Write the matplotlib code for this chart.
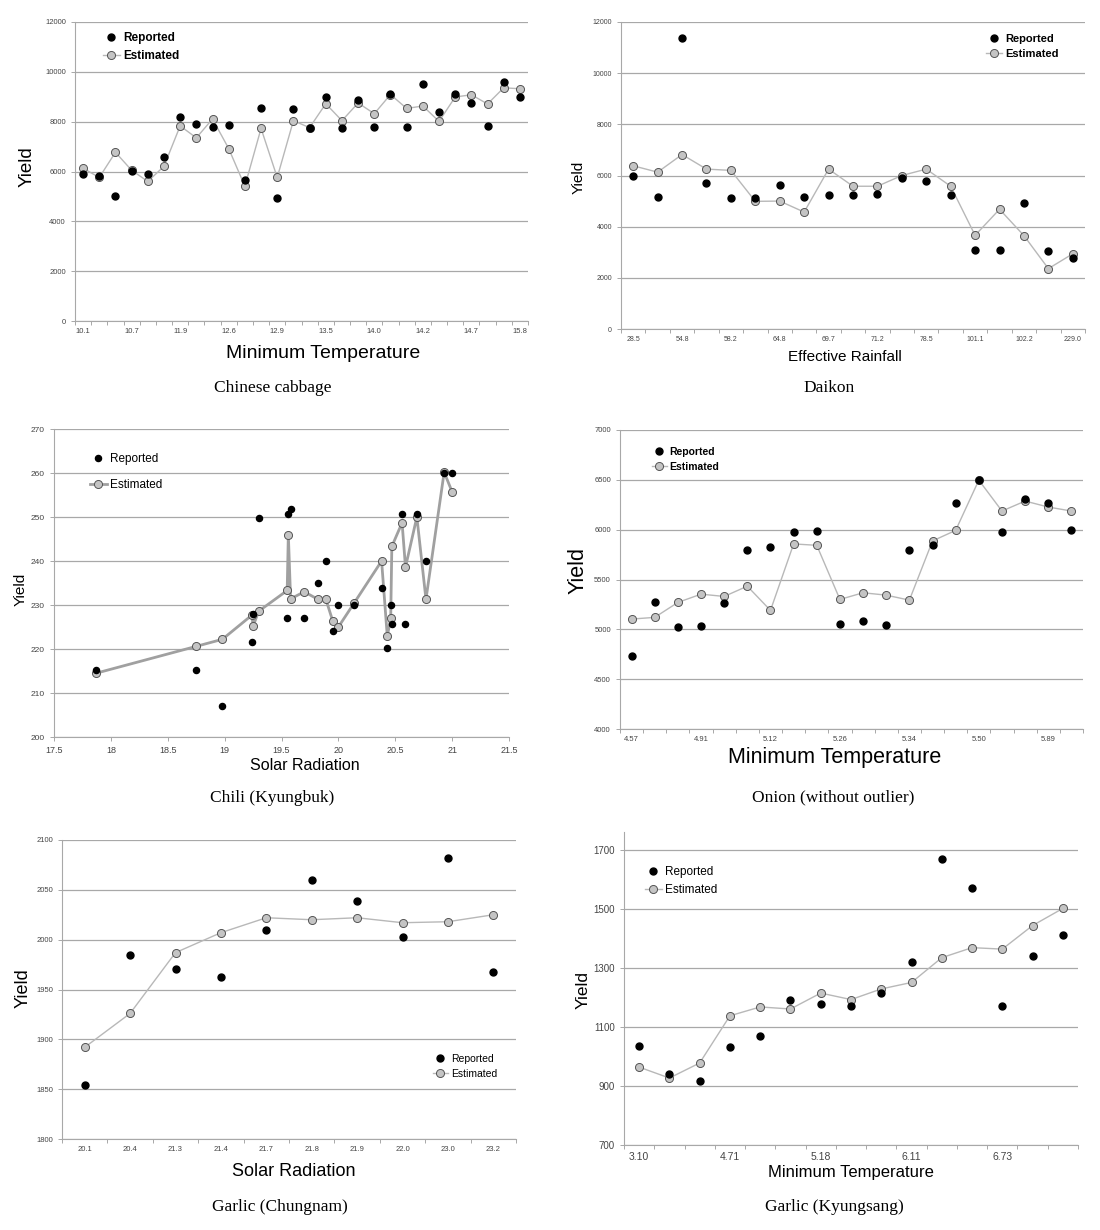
import numpy as np
import matplotlib
matplotlib.use('Agg')
import matplotlib.pyplot as plt
from matplotlib.lines import Line2D

plt.rcParams['font.family'] = ['Liberation Sans', 'DejaVu Sans']

W, H = 1100, 1230

# Chinese cabbage, minimum temperature (categories, every 3rd labelled)
cab_ticks = ['10.1', '10.7', '11.9', '12.6', '12.9', '13.5', '14.0', '14.2', '14.7', '15.8']
cab_rep = [5890, 5800, 5010, 6040, 5890, 6590, 8190, 7910, 7770, 7880, 5670, 8530, 4950, 8490,
           7740, 8970, 7730, 8850, 7770, 9130, 7800, 9510, 8390, 9130, 8750, 7830, 9590, 9000]
cab_est = [6130, 5760, 6770, 6050, 5600, 6210, 7830, 7350, 8110, 6920, 5410, 7730, 5760, 8040,
           7760, 8720, 8040, 8750, 8320, 9090, 8530, 8630, 8010, 8990, 9080, 8710, 9360, 9320]

# Daikon, effective rainfall
dai_ticks = ['28.5', '54.8', '58.2', '64.8', '69.7', '71.2', '78.5', '101.1', '102.2', '229.0']
dai_rep = [5990, 5160, 11390, 5690, 5140, 5140, 5620, 5160, 5230, 5230,
           5290, 5900, 5780, 5230, 3100, 3090, 4940, 3030, 2780]
dai_est = [6380, 6130, 6820, 6250, 6200, 4990, 5000, 4570, 6250, 5580,
           5580, 6000, 6250, 5580, 3660, 4680, 3650, 2360, 2940]

# Chili (Kyungbuk), solar radiation
chi_x = [17.87, 18.75, 18.98, 19.24, 19.25, 19.30, 19.55, 19.56, 19.58, 19.70, 19.82, 19.89, 19.95,
         20.00, 20.14, 20.38, 20.43, 20.46, 20.47, 20.56, 20.59, 20.69, 20.77, 20.93, 21.00]
chi_rep = [215.3, 215.3, 207.1, 221.7, 227.9, 249.8, 227.1, 250.7, 251.8, 227.1, 234.9, 239.9, 224.2,
           229.9, 229.9, 233.9, 220.2, 229.9, 225.7, 250.7, 225.7, 250.7, 239.9, 260.1, 260.1]
chi_est = [214.5, 220.6, 222.2, 227.7, 225.2, 228.6, 233.3, 246.0, 231.4, 233.0, 231.3, 231.3, 226.4,
           225.0, 230.5, 240.0, 222.9, 227.0, 243.3, 248.7, 238.6, 250.0, 231.3, 260.2, 255.7]

# Onion (without outlier), minimum temperature
oni_ticks = ['4.57', '4.91', '5.12', '5.26', '5.34', '5.50', '5.89']
oni_rep = [4737, 5277, 5020, 5033, 5263, 5800, 5827, 5980, 5983, 5057,
           5087, 5040, 5797, 5850, 6270, 6497, 5980, 6303, 6263, 5997]
oni_est = [5103, 5120, 5270, 5353, 5330, 5433, 5190, 5857, 5843, 5300,
           5367, 5343, 5293, 5887, 5993, 6497, 6187, 6287, 6227, 6187]

# Garlic (Chungnam), solar radiation
gch_ticks = ['20.1', '20.4', '21.3', '21.4', '21.7', '21.8', '21.9', '22.0', '23.0', '23.2']
gch_rep = [1854, 1985, 1971, 1963, 2010, 2060, 2039, 2003, 2082, 1968]
gch_est = [1892, 1926, 1987, 2007, 2022, 2020, 2022, 2017, 2018, 2025]

# Garlic (Kyungsang), minimum temperature
gky_ticks = ['3.10', '4.71', '5.18', '6.11', '6.73']
gky_rep = [1037, 942, 917, 1032, 1071, 1190, 1177, 1172, 1215, 1322, 1670, 1570, 1172, 1340, 1412]
gky_est = [964, 927, 978, 1138, 1168, 1161, 1215, 1193, 1229, 1251, 1335, 1369, 1364, 1444, 1502]

fig = plt.figure(figsize=(W / 100, H / 100), dpi=100)


def box(l, t, r, b):
    return [l / W, 1 - b / H, (r - l) / W, (b - t) / H]


def fx(x):
    return x / W


def fy(y):
    return 1 - y / H


def style(ax, ylim, yticks, fs):
    ax.set_ylim(*ylim)
    ax.set_yticks(yticks)
    ax.set_yticklabels([str(v) for v in yticks])
    ax.yaxis.grid(True, color='#a8a8a8', lw=0.9)
    ax.set_axisbelow(True)
    for s in ['top', 'right']:
        ax.spines[s].set_visible(False)
    for s in ['left', 'bottom']:
        ax.spines[s].set_color('#a8a8a8')
    ax.tick_params(labelsize=fs, labelcolor='#444444', color='#a8a8a8', length=3, width=0.7)


def cat_axis(ax, n, labels, step):
    ax.set_xlim(-0.5, n - 0.5)
    ax.set_xticks(np.arange(0, n, step))
    ax.set_xticklabels(labels)
    ax.set_xticks(np.arange(n + 1) - 0.5, minor=True)
    ax.tick_params(axis='x', which='major', length=0, pad=5)
    ax.tick_params(axis='x', which='minor', length=3, color='#a8a8a8', width=0.7)


def draw(ax, x, rep, est, lw=1.0, lc='#b8b8b8', ms_r=5.0, ms_e=5.8):
    ax.plot(x, est, '-o', color=lc, lw=lw, ms=ms_e, mfc='#c4c4c4', mec='#555555', mew=0.7, zorder=3)
    ax.plot(x, rep, 'o', ls='none', color='black', ms=ms_r, zorder=4)
    h_rep = Line2D([], [], marker='o', ls='none', color='black', ms=ms_r)
    h_est = Line2D([], [], marker='o', color=lc, lw=lw, ms=ms_e, mfc='#c4c4c4', mec='#555555', mew=0.7)
    return [h_rep, h_est]


def legend(ax, handles, x, y, fs, bold, spacing=0.3):
    ax.legend(handles, ['Reported', 'Estimated'], loc='upper left', bbox_to_anchor=(fx(x), fy(y)),
              bbox_transform=fig.transFigure, frameon=False, borderpad=0, borderaxespad=0,
              handlelength=1.4, handletextpad=0.3, labelspacing=spacing,
              prop={'size': fs, 'weight': 'bold' if bold else 'normal'})


def labels(xl, xpos, yl, ypos, fs_x, fs_y, cap, cpos):
    fig.text(fx(xpos[0]), fy(xpos[1]), xl, ha='center', va='center', fontsize=fs_x)
    fig.text(fx(ypos[0]), fy(ypos[1]), yl, ha='center', va='center', fontsize=fs_y, rotation=90)
    fig.text(fx(cpos[0]), fy(cpos[1]), cap, ha='center', va='center', fontsize=12.5,
             family=['Liberation Serif', 'DejaVu Serif'])


# Chinese cabbage
ax = fig.add_axes(box(75, 22, 528, 321))
n = len(cab_rep)
h = draw(ax, np.arange(n), cab_rep, cab_est)
style(ax, (0, 12000), list(range(0, 12001, 2000)), 5.5)
cat_axis(ax, n, cab_ticks, 3)
legend(ax, h, 103, 32, 8.5, True, 0.55)
labels('Minimum Temperature', (323, 353), 'Yield', (27, 167), 14, 13.5, 'Chinese cabbage', (273, 388))

# Daikon
ax = fig.add_axes(box(621, 22, 1085, 329))
n = len(dai_rep)
h = draw(ax, np.arange(n), dai_rep, dai_est)
style(ax, (0, 12000), list(range(0, 12001, 2000)), 5)
cat_axis(ax, n, dai_ticks, 2)
legend(ax, h, 986, 34, 8, True, 0.45)
labels('Effective Rainfall', (845, 357), 'Yield', (579, 177), 11, 11, 'Daikon', (829, 388))

# Chili (Kyungbuk)
ax = fig.add_axes(box(54, 429, 509, 737))
h = draw(ax, chi_x, chi_rep, chi_est, lw=2.0, lc='#a0a0a0', ms_r=4.4, ms_e=5.8)
style(ax, (200, 270), list(range(200, 271, 10)), 6)
ax.set_xlim(17.5, 21.5)
xt = np.arange(17.5, 21.51, 0.5)
ax.set_xticks(xt)
ax.set_xticklabels([f'{v:g}' for v in xt])
ax.tick_params(axis='x', labelsize=6.5)
legend(ax, h, 90, 453, 8.5, False, 1.2)
labels('Solar Radiation', (305, 766), 'Yield', (21, 589), 11.5, 11, 'Chili (Kyungbuk)', (272, 798))

# Onion (without outlier)
ax = fig.add_axes(box(620, 430, 1083, 729))
n = len(oni_rep)
h = draw(ax, np.arange(n), oni_rep, oni_est)
style(ax, (4000, 7000), list(range(4000, 7001, 500)), 5.5)
cat_axis(ax, n, oni_ticks, 3)
legend(ax, h, 652, 447, 7.5, True, 0.45)
labels('Minimum Temperature', (835, 758), 'Yield', (578, 570), 15.5, 15.5, 'Onion (without outlier)', (833, 797))

# Garlic (Chungnam)
ax = fig.add_axes(box(62, 840, 516, 1139))
n = len(gch_rep)
h = draw(ax, np.arange(n), gch_rep, gch_est)
style(ax, (1800, 2100), list(range(1800, 2101, 50)), 5.5)
cat_axis(ax, n, gch_ticks, 1)
legend(ax, h, 433, 1054, 7.5, False, 0.45)
labels('Solar Radiation', (294, 1171), 'Yield', (23, 988), 13, 13, 'Garlic (Chungnam)', (280, 1207))

# Garlic (Kyungsang)
ax = fig.add_axes(box(624, 832, 1078, 1145))
n = len(gky_rep)
h = draw(ax, np.arange(n), gky_rep, gky_est)
style(ax, (700, 1761), list(range(700, 1701, 200)), 7)
cat_axis(ax, n, gky_ticks, 3)
ax.tick_params(axis='x', labelsize=7.5)
legend(ax, h, 645, 866, 8.5, False, 0.5)
labels('Minimum Temperature', (851, 1173), 'Yield', (583, 990), 12, 12.5, 'Garlic (Kyungsang)', (834, 1207))

fig.savefig('out.png', dpi=100)
